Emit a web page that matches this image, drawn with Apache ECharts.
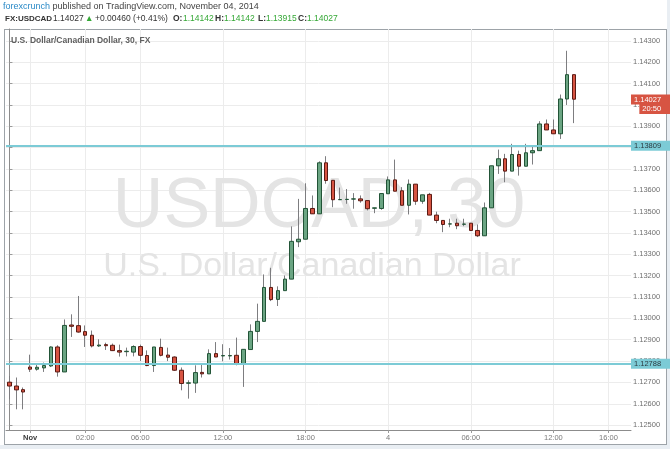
<!DOCTYPE html>
<html><head><meta charset="utf-8">
<script src="https://cdn.jsdelivr.net/npm/echarts@6/dist/echarts.min.js"></script>
<style>
html,body{margin:0;padding:0;background:#e9eef3;width:670px;height:449px;overflow:hidden}
#bg{position:absolute;left:0;top:0;width:667px;height:445px;background:#fff}
#frame{position:absolute;left:4px;top:29px;width:661px;height:414px;border:1px solid #9da3a8;background:#fff}
#chart{position:absolute;left:0;top:0;width:670px;height:449px}
</style></head><body>
<div id="bg"></div><div id="frame"></div><div id="chart"></div>
<script>
// ---- data (USD/CAD, 30-minute candles) ----
const opens = [
1.12701,1.12683,1.12666,1.12772,1.12762,1.12768,1.12777,1.12866,1.12749,1.12969,
1.12966,1.12938,1.12921,1.12871,1.12877,1.12874,1.12849,1.12844,1.12842,1.12868,
1.12826,1.12779,1.12864,1.12828,1.12819,1.12757,1.12696,1.12697,1.12747,1.12740,
1.12835,1.12824,1.12824,1.12827,1.12784,1.12854,1.12939,1.12986,1.13145,1.13089,
1.13130,1.13184,1.13359,1.13371,1.13515,1.13490,1.13729,1.13647,1.13556,1.13557,
1.13559,1.13560,1.13552,1.13516,1.13515,1.13584,1.13649,1.13598,1.13530,1.13629,
1.13549,1.13581,1.13484,1.13459,1.13442,1.13446,1.13441,1.13446,1.13412,1.13387,
1.13518,1.13715,1.13748,1.13690,1.13768,1.13713,1.13776,1.13786,1.13911,1.13883,
1.13865,1.14028,1.14142];
const closes = [
1.12683,1.12665,1.12655,1.12762,1.12771,1.12779,1.12866,1.12749,1.12967,1.12963,
1.12936,1.12921,1.12871,1.12875,1.12872,1.12849,1.12842,1.12846,1.12868,1.12827,
1.12779,1.12866,1.12827,1.12818,1.12757,1.12695,1.12698,1.12746,1.12740,1.12835,
1.12819,1.12826,1.12826,1.12784,1.12855,1.12939,1.12986,1.13145,1.13088,1.13130,
1.13184,1.13361,1.13371,1.13515,1.13490,1.13729,1.13646,1.13556,1.13557,1.13558,
1.13560,1.13551,1.13514,1.13518,1.13585,1.13649,1.13596,1.13530,1.13629,1.13549,
1.13579,1.13484,1.13459,1.13440,1.13443,1.13434,1.13442,1.13412,1.13387,1.13518,
1.13715,1.13748,1.13690,1.13768,1.13713,1.13776,1.13786,1.13911,1.13883,1.13865,
1.14028,1.14142,1.14027];
const lows = [
1.12621,1.12574,1.12574,1.12749,1.12755,1.12749,1.12772,1.12727,1.12749,1.12913,
1.12933,1.12866,1.12864,1.12866,1.12852,1.12847,1.12821,1.12822,1.12822,1.12800,
1.12776,1.12749,1.12822,1.12800,1.12754,1.12663,1.12624,1.12651,1.12723,1.12740,
1.12818,1.12799,1.12807,1.12780,1.12679,1.12854,1.12889,1.12986,1.13081,1.13058,
1.13130,1.13184,1.13334,1.13371,1.13490,1.13490,1.13631,1.13521,1.13555,1.13537,
1.13514,1.13542,1.13506,1.13493,1.13509,1.13584,1.13596,1.13530,1.13487,1.13532,
1.13537,1.13484,1.13446,1.13404,1.13427,1.13418,1.13432,1.13409,1.13381,1.13387,
1.13518,1.13677,1.13638,1.13690,1.13669,1.13713,1.13721,1.13786,1.13883,1.13865,
1.13841,1.14000,1.13915];
const highs = [
1.12730,1.12723,1.12676,1.12830,1.12785,1.12793,1.12869,1.12874,1.12995,1.13019,
1.13105,1.12967,1.12943,1.12902,1.12886,1.12882,1.12877,1.12863,1.12874,1.12877,
1.12850,1.12866,1.12905,1.12863,1.12822,1.12770,1.12710,1.12780,1.12784,1.12855,
1.12889,1.12879,1.12861,1.12910,1.12855,1.12972,1.13069,1.13206,1.13237,1.13150,
1.13201,1.13431,1.13560,1.13633,1.13576,1.13736,1.13760,1.13647,1.13613,1.13606,
1.13587,1.13576,1.13552,1.13518,1.13585,1.13665,1.13744,1.13615,1.13651,1.13629,
1.13579,1.13588,1.13500,1.13459,1.13467,1.13467,1.13467,1.13446,1.13440,1.13543,
1.13715,1.13791,1.13771,1.13818,1.13786,1.13818,1.13810,1.13924,1.13932,1.13932,
1.14049,1.14254,1.14142];
const xLabelIdx  = [3, 11, 19, 31, 43, 55, 67, 79, 87];
const xLabelText = ['Nov','02:00','06:00','12:00','18:00','4','06:00','12:00','16:00'];
const yTicks = [1.125,1.126,1.127,1.128,1.129,1.130,1.131,1.132,1.133,1.134,1.135,1.136,1.137,1.138,1.139,1.140,1.141,1.142,1.143];
const levels = [1.13809, 1.12788];
const lastPrice = 1.14027;
const countdown = '20:50';

// ---- chart ----
const FONT = '"Liberation Sans", Arial, sans-serif';
const UP = '#6ba583', DOWN = '#d75442', UPB = '#225437', DOWNB = '#5b1a13', WICK = '#7d7d80', TEAL = '#7ccbd6';
const GREEN = '#35a836';
const wickData = opens.map((o, i) => [i, o, closes[i], lows[i], highs[i]]);
const bodyData = opens.map((o, i) => [i, o, closes[i], Math.min(o, closes[i]), Math.max(o, closes[i])]);
const closeLine = closes.map((c, i) => [i, c]);

const chart = echarts.init(document.getElementById('chart'), null, {renderer: 'canvas'});
const levelLines = levels.map(v => ({
  yAxis: v,
  lineStyle: {color: TEAL, width: 2, type: 'solid'},
  label: {show: true, position: 'end', distance: 0, formatter: v.toFixed(5),
    backgroundColor: TEAL, color: '#2b3a40', fontSize: 7.5, fontFamily: FONT, padding: [1, 12, 1, 3]}
}));
const priceLine = {
  yAxis: lastPrice,
  lineStyle: {color: 'rgba(0,0,0,0)', width: 1, type: 'solid'},
  label: {show: true, position: 'end', distance: 0, offset: [0, 5],
    formatter: '{a|' + lastPrice.toFixed(5) + '}\n{b|' + countdown + '}',
    rich: {
      a: {backgroundColor: DOWN, color: '#fff', fontSize: 7.5, fontFamily: FONT, padding: [1, 12, 1, 3], lineHeight: 9.5, align: 'right'},
      b: {backgroundColor: DOWN, color: '#fff', fontSize: 7.5, fontFamily: FONT, padding: [1, 12, 1, 3], lineHeight: 9.5, align: 'right'}
    }}
};

function hText(x, y, text, opts) {
  return {type: 'text', x: x, y: y, z: 10, silent: true,
    style: Object.assign({text: text, font: '8.5px ' + FONT, fill: '#333', verticalAlign: 'middle'}, opts || {})};
}

chart.setOption({
  animation: false,
  backgroundColor: 'transparent',
  grid: {left: 6, right: 39, top: 29, bottom: 19, containLabel: false, outerBoundsMode: 'none'},
  xAxis: {
    type: 'value', min: -0.5, max: 90.27,
    axisLine: {show: true, onZero: false, lineStyle: {color: '#8c8c8c', width: 1}},
    axisTick: {show: true, length: 3, customValues: xLabelIdx, lineStyle: {color: '#9a9a9a'}},
    axisLabel: {show: true, customValues: xLabelIdx, margin: 4, fontSize: 7.5, color: '#7a7a7a', fontFamily: FONT,
      formatter: v => { const k = xLabelIdx.indexOf(Math.round(v)); const t = k >= 0 ? xLabelText[k] : ''; return k === 0 ? '{n|' + t + '}' : t; },
      rich: {n: {fontWeight: 'bold', color: '#3a3a3a', fontSize: 7.5, fontFamily: FONT}}},
    splitLine: {show: true, lineStyle: {color: '#ececec', width: 1}}
  },
  yAxis: {
    type: 'value', position: 'right', min: 1.12477, max: 1.14356, scale: true,
    axisLine: {show: true, lineStyle: {color: '#8c8c8c', width: 1}},
    axisTick: {show: true, length: 3, customValues: yTicks, lineStyle: {color: '#9a9a9a'}},
    axisLabel: {show: true, customValues: yTicks, margin: 2, fontSize: 7.5, color: '#6f6f6f', fontFamily: FONT,
      formatter: v => v.toFixed(5)},
    splitLine: {show: true, lineStyle: {color: '#ececec', width: 1}}
  },
  graphic: [
    hText(3, 7, '{f|forexcrunch} published on TradingView.com, November 04, 2014',
      {font: '9px ' + FONT, fill: '#444', rich: {f: {fill: '#2a8ac7', fontSize: 9, fontFamily: FONT}}}),
    hText(5, 19, 'FX:USDCAD', {font: 'bold 8px ' + FONT, fill: '#333'}),
    hText(53, 19, '1.14027'),
    hText(85, 19, '▲', {fill: GREEN}),
    hText(95, 19, '+0.00460 (+0.41%)'),
    hText(173, 19, 'O:', {font: 'bold 8.5px ' + FONT}),
    hText(183, 19, '1.14142', {fill: GREEN}),
    hText(215, 19, 'H:', {font: 'bold 8.5px ' + FONT}),
    hText(224, 19, '1.14142', {fill: GREEN}),
    hText(258, 19, 'L:', {font: 'bold 8.5px ' + FONT}),
    hText(266, 19, '1.13915', {fill: GREEN}),
    hText(298, 19, 'C:', {font: 'bold 8.5px ' + FONT}),
    hText(307, 19, '1.14027', {fill: GREEN}),
    hText(11, 41, 'U.S. Dollar/Canadian Dollar, 30, FX', {font: 'bold 8.5px ' + FONT, fill: '#606060'}),
    {type: 'text', x: 319, y: 208, z: 1, silent: true, style: {text: 'USDCAD, 30',
      font: '70px ' + FONT, fill: '#e4e4e4', align: 'center', verticalAlign: 'middle'}},
    {type: 'text', x: 312, y: 267, z: 1, silent: true, style: {text: 'U.S. Dollar/Canadian Dollar',
      font: '34px ' + FONT, fill: '#e4e4e4', align: 'center', verticalAlign: 'middle'}}
  ],
  series: [
    {
      type: 'line', name: 'levels', z: 2, data: closeLine, showSymbol: false, symbol: 'none', silent: true,
      lineStyle: {opacity: 0}, itemStyle: {opacity: 0},
      markLine: {silent: true, symbol: 'none', animation: false, precision: 5, data: levelLines.concat([priceLine])}
    },
    {
      type: 'candlestick', name: 'wick', z: 3,
      dimensions: ['idx', 'open', 'close', 'lowest', 'highest'],
      encode: {x: 'idx', y: ['open', 'close', 'lowest', 'highest']},
      data: wickData, barWidth: 1, silent: true,
      itemStyle: {color: 'rgba(0,0,0,0)', color0: 'rgba(0,0,0,0)', borderColor: WICK, borderColor0: WICK, borderColorDoji: WICK, borderWidth: 1}
    },
    {
      type: 'candlestick', name: 'body', z: 4,
      dimensions: ['idx', 'open', 'close', 'lowest', 'highest'],
      encode: {x: 'idx', y: ['open', 'close', 'lowest', 'highest']},
      data: bodyData, barWidth: 4,
      itemStyle: {color: UP, color0: DOWN, borderColor: UPB, borderColor0: DOWNB, borderColorDoji: UPB, borderWidth: 1}
    }
  ]
});
</script>
</body></html>
